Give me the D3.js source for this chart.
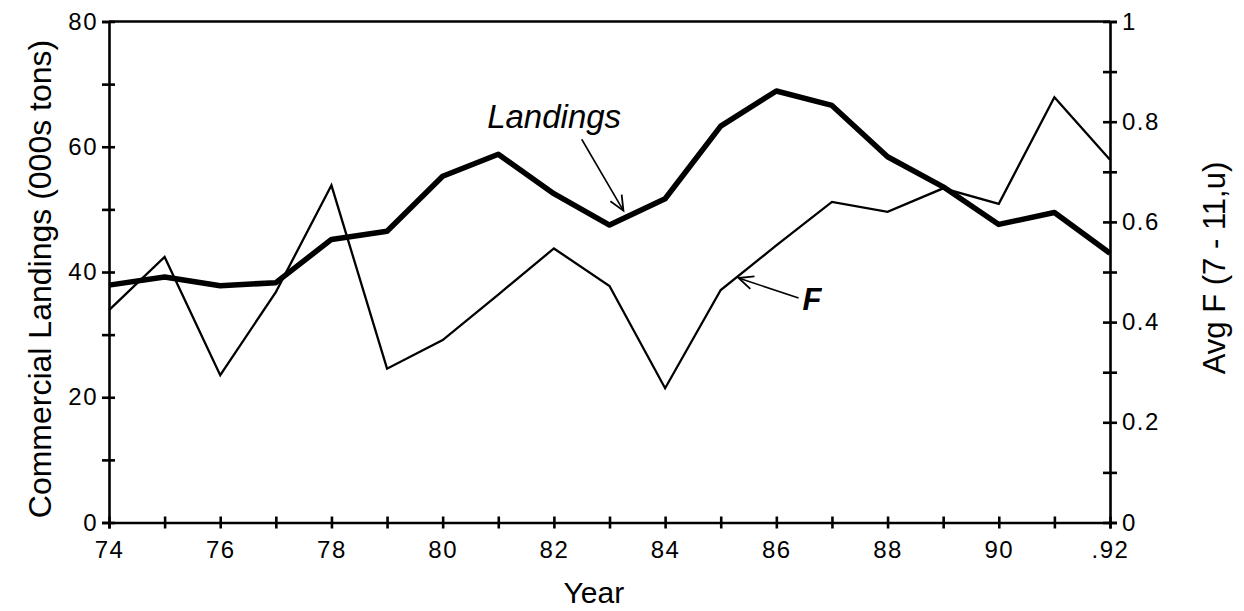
<!DOCTYPE html>
<html>
<head>
<meta charset="utf-8">
<script src="https://cdn.jsdelivr.net/npm/d3@7"></script>
<style>
  body { margin: 0; background: #fff; }
  svg { display: block; font-family: "Liberation Sans", Arial, sans-serif; }
  .axis path, .axis line { stroke: #000; stroke-width: 2.6; }
  .axis text { font-size: 24px; fill: #000; letter-spacing: 1.5px; }
  .title { font-size: 31px; fill: #000; }
</style>
</head>
<body>
<div id="chart"></div>
<script>
/* 年 (19xx) */
const years = [74, 75, 76, 77, 78, 79, 80, 81, 82, 83, 84, 85, 86, 87, 88, 89, 90, 91, 92];

/* 水揚げ量 (000s tons) --- 左軸 */
const landings = [37.9, 39.2, 37.8, 38.3, 45.2, 46.5, 55.3, 58.8, 52.5, 47.5,
                  51.7, 63.3, 68.9, 66.6, 58.4, 53.6, 47.6, 49.5, 43.0];

/* 平均F (7 - 11,u) --- 右軸 */
const avgF = [0.424, 0.53, 0.294, 0.46, 0.673, 0.307, 0.364, 0.455, 0.547, 0.472,
              0.268, 0.464, 0.553, 0.64, 0.62, 0.667, 0.636, 0.849, 0.724];

/* 目盛り */
const xTicks = [74, 75, 76, 77, 78, 79, 80, 81, 82, 83, 84, 85, 86, 87, 88, 89, 90, 91, 92];
const xTickLabels = {74: '74', 76: '76', 78: '78', 80: '80', 82: '82', 84: '84',
                     86: '86', 88: '88', 90: '90', 92: '.92'};
const leftTicks = [0, 10, 20, 30, 40, 50, 60, 70, 80];
const leftTickLabels = [0, 20, 40, 60, 80];
const rightTicks = [0, 0.1, 0.2, 0.3, 0.4, 0.5, 0.6, 0.7, 0.8, 0.9, 1];
const rightTickLabels = {0: '0', 0.2: '0.2', 0.4: '0.4', 0.6: '0.6', 0.8: '0.8', 1: '1'};

/* 注記 (年, 値) */
const landingsNote = {text: 'Landings', label: [80.8, 63.0], tail: [82.5, 61.2], tip: [83.25, 49.8]};
const fNote = {text: 'F', label: [86.47, 0.424], tail: [86.4, 0.448], tip: [85.32, 0.488]};

const width = 1244;
const height = 611;

let svg = d3.select('#chart').append('svg').attr('width', width).attr('height', height);

// スケール
let x = d3.scaleLinear().domain([74, 92]).range([109, 1110]);
let yL = d3.scaleLinear().domain([0, 80]).range([522.5, 21.5]);
let yR = d3.scaleLinear().domain([0, 1]).range([522.5, 21.5]);

// 上の枠線
svg.append('line')
  .attr('x1', x(74)).attr('x2', x(92))
  .attr('y1', yL(80)).attr('y2', yL(80))
  .attr('stroke', '#000').attr('stroke-width', 2.6);

// 下軸 (Year)
let gx = svg.append('g').attr('class', 'axis')
  .attr('transform', 'translate(0,' + yL(0) + ')')
  .call(d3.axisBottom(x).tickValues(xTicks).tickSizeOuter(0).tickSize(6).tickPadding(12)
    .tickFormat(d => xTickLabels[d] || ''));
gx.selectAll('.tick line').attr('y1', -6);

// 左軸
let gl = svg.append('g').attr('class', 'axis')
  .attr('transform', 'translate(' + x(74) + ',0)')
  .call(d3.axisLeft(yL).tickValues(leftTicks).tickSizeOuter(0).tickSize(7).tickPadding(4)
    .tickFormat(d => leftTickLabels.indexOf(d) > -1 ? d : ''));
gl.selectAll('.tick line').attr('x1', 6);

// 右軸
let gr = svg.append('g').attr('class', 'axis')
  .attr('transform', 'translate(' + x(92) + ',0)')
  .call(d3.axisRight(yR).tickValues(rightTicks).tickSizeOuter(0).tickSize(7).tickPadding(5)
    .tickFormat(d => rightTickLabels[Math.round(d * 10) / 10] || ''));
gr.selectAll('.tick line').attr('x1', -7);
gr.selectAll('.tick text').attr('x', 12);

// 軸タイトル
svg.append('text').attr('class', 'title')
  .attr('transform', 'translate(40,' + 279 + ') rotate(-90)')
  .attr('text-anchor', 'middle').attr('dominant-baseline', 'central')
  .style('font-size', '32px')
  .text('Commercial Landings (000s tons)');

svg.append('text').attr('class', 'title')
  .attr('transform', 'translate(1214,' + 268 + ') rotate(-90)')
  .attr('text-anchor', 'middle').attr('dominant-baseline', 'central')
  .text('Avg F (7 - 11,u)');

svg.append('text').attr('class', 'title')
  .attr('x', x(82.72)).attr('y', 603)
  .attr('text-anchor', 'middle')
  .style('font-size', '30px')
  .text('Year');

// データの線
let lineL = d3.line().x((d, i) => x(years[i])).y(d => yL(d));
let lineR = d3.line().x((d, i) => x(years[i])).y(d => yR(d));

svg.append('path').datum(avgF)
  .attr('d', lineR)
  .attr('fill', 'none').attr('stroke', '#000').attr('stroke-width', 2.3)
  .attr('stroke-linejoin', 'miter');

svg.append('path').datum(landings)
  .attr('d', lineL)
  .attr('fill', 'none').attr('stroke', '#000').attr('stroke-width', 5.5)
  .attr('stroke-linejoin', 'round');

// 注記 (矢印)
const drawArrow = (tail, tip) => {
  let ang = Math.atan2(tip[1] - tail[1], tip[0] - tail[0]);
  let len = 16, spread = 0.42;
  svg.append('line')
    .attr('x1', tail[0]).attr('y1', tail[1]).attr('x2', tip[0]).attr('y2', tip[1])
    .attr('stroke', '#000').attr('stroke-width', 1.6);
  let head = [ang + Math.PI - spread, ang + Math.PI + spread].map(a =>
    [tip[0] + len * Math.cos(a), tip[1] + len * Math.sin(a)]);
  svg.append('path')
    .attr('d', 'M' + head[0] + 'L' + tip + 'L' + head[1])
    .attr('fill', 'none').attr('stroke', '#000').attr('stroke-width', 1.8);
};

svg.append('text')
  .attr('x', x(landingsNote.label[0])).attr('y', yL(landingsNote.label[1]))
  .attr('font-size', 33).attr('font-style', 'italic')
  .text(landingsNote.text);
drawArrow([x(landingsNote.tail[0]), yL(landingsNote.tail[1])],
          [x(landingsNote.tip[0]), yL(landingsNote.tip[1])]);

svg.append('text')
  .attr('x', x(fNote.label[0])).attr('y', yR(fNote.label[1]))
  .attr('font-size', 31).attr('font-style', 'italic').attr('font-weight', 'bold')
  .text(fNote.text);
drawArrow([x(fNote.tail[0]), yR(fNote.tail[1])],
          [x(fNote.tip[0]), yR(fNote.tip[1])]);
</script>
</body>
</html>
